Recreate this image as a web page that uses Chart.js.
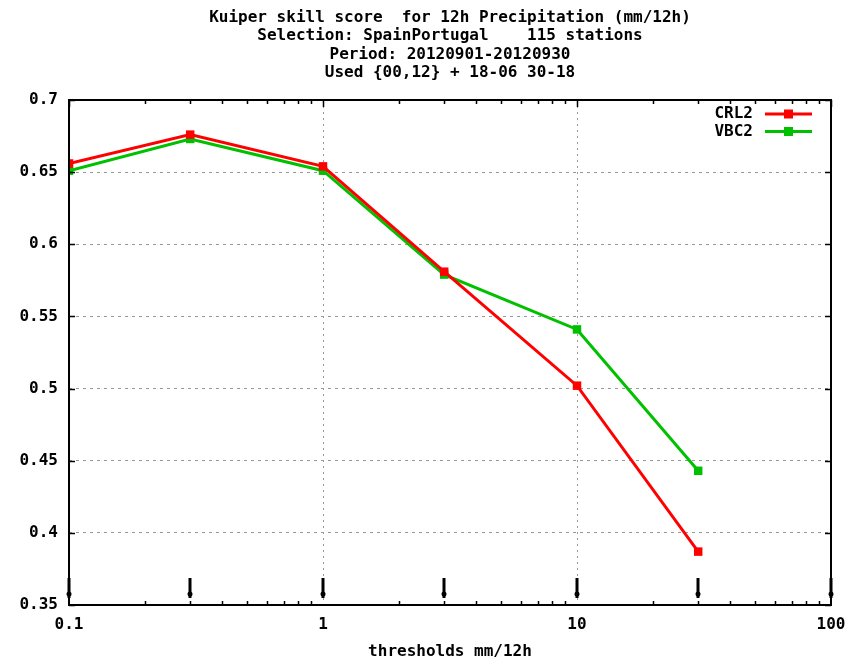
<!DOCTYPE html>
<html>
<head>
<meta charset="utf-8">
<script src="https://cdn.jsdelivr.net/npm/chart.js@4/dist/chart.umd.min.js"></script>
<style>
  html, body { margin: 0; padding: 0; background: #fff; }
  #wrap { width: 865px; height: 661px; }
</style>
</head>
<body>
<div id="wrap"><canvas id="main-chart" width="865" height="661"></canvas></div>
<script>
// data
const thresholds = [0.1, 0.3, 1, 3, 10, 30]
const crl2 = [0.656, 0.676, 0.654, 0.581, 0.502, 0.387]
const vbc2 = [0.651, 0.673, 0.651, 0.579, 0.541, 0.443]
const xTicks = [0.1, 1, 10, 100]
const markerX = [0.1, 0.3, 1, 3, 10, 30, 100]
const titleLines = [
  'Kuiper skill score  for 12h Precipitation (mm/12h)',
  'Selection: SpainPortugal    115 stations',
  'Period: 20120901-20120930',
  'Used {00,12} + 18-06 30-18'
]

const FONT = 'bold 16px "DejaVu Sans Mono", monospace'

const toPoints = (xs, ys) => xs.map((x, i) => ({ x: x, y: ys[i] }))

// gnuplot-ish decorations: title, frame, inward ticks, legend, bottom markers
const gnuplotLook = {
  id: 'gnuplotLook',
  afterDatasetsDraw(chart) {
    const ctx = chart.ctx
    const a = chart.chartArea
    const xs = chart.scales.x
    const ys = chart.scales.y
    ctx.save()

    // title
    ctx.fillStyle = '#000'
    ctx.font = FONT
    ctx.textAlign = 'center'
    ctx.textBaseline = 'middle'
    titleLines.forEach((t, i) => ctx.fillText(t, (a.left + a.right) / 2, 18 + i * 18.3))

    // frame
    ctx.strokeStyle = '#000'
    ctx.lineWidth = 2
    ctx.strokeRect(a.left, a.top, a.right - a.left, a.bottom - a.top)

    // minor log ticks top + bottom
    ctx.lineWidth = 1.5
    ctx.beginPath()
    for (let d = 0.1; d < 100; d *= 10) {
      for (let m = 2; m <= 9; m++) {
        const px = Math.round(xs.getPixelForValue(d * m)) + 0.5
        ctx.moveTo(px, a.bottom); ctx.lineTo(px, a.bottom - 4)
        ctx.moveTo(px, a.top); ctx.lineTo(px, a.top + 4)
      }
    }
    xTicks.forEach(v => {
      const px = Math.round(xs.getPixelForValue(v)) + 0.5
      ctx.moveTo(px, a.top); ctx.lineTo(px, a.top + 7)
    })
    // y ticks left + right
    ys.ticks.forEach(t => {
      const py = Math.round(ys.getPixelForValue(t.value)) + 0.5
      ctx.moveTo(a.left, py); ctx.lineTo(a.left + 6, py)
      ctx.moveTo(a.right, py); ctx.lineTo(a.right - 6, py)
    })
    ctx.stroke()

    // little markers along the bottom
    ctx.lineWidth = 3
    markerX.forEach(v => {
      const px = Math.round(xs.getPixelForValue(v))
      ctx.beginPath()
      ctx.moveTo(px, a.bottom - 27)
      ctx.lineTo(px, a.bottom - 7)
      ctx.stroke()
      ctx.beginPath()
      ctx.arc(px, a.bottom - 11, 2.5, 0, Math.PI * 2)
      ctx.fill()
    })

    // legend
    ctx.font = FONT
    ctx.textAlign = 'right'
    chart.data.datasets.forEach((ds, i) => {
      const y = 114 + i * 17.5
      ctx.fillStyle = '#000'
      ctx.fillText(ds.label, 753, y)
      ctx.strokeStyle = ds.borderColor
      ctx.lineWidth = 3
      ctx.beginPath()
      ctx.moveTo(765, y); ctx.lineTo(812, y)
      ctx.stroke()
      ctx.fillStyle = ds.borderColor
      ctx.fillRect(784, y - 4.5, 9, 9)
    })
    ctx.restore()
  }
}

const mainChart = new Chart(document.getElementById('main-chart'), {
  type: 'line',
  data: {
    datasets: [
      {
        label: 'CRL2',
        data: toPoints(thresholds, crl2),
        borderColor: '#ff0000',
        backgroundColor: '#ff0000',
        borderWidth: 3,
        pointStyle: 'rect',
        pointRadius: 6,
        pointBorderWidth: 0,
        tension: 0,
      },
      {
        label: 'VBC2',
        data: toPoints(thresholds, vbc2),
        borderColor: '#00c000',
        backgroundColor: '#00c000',
        borderWidth: 3,
        pointStyle: 'rect',
        pointRadius: 6,
        pointBorderWidth: 0,
        tension: 0,
      },
    ],
  },
  options: {
    responsive: false,
    animation: false,
    layout: {
      padding: { top: 100, right: 34, left: 0, bottom: 0 },
    },
    plugins: {
      legend: { display: false },
      title: { display: false },
      tooltip: { enabled: false },
    },
    scales: {
      x: {
        type: 'logarithmic',
        min: 0.1,
        max: 100,
        afterBuildTicks: scale => { scale.ticks = xTicks.map(v => ({ value: v, major: true })) },
        afterFit: scale => { scale.height = 56 },
        border: { display: false, dash: [2, 4] },
        grid: {
          drawTicks: false,
          tickLength: 0,
          lineWidth: 1,
          color: c => (c.tick && (c.tick.value === 1 || c.tick.value === 10)) ? '#999' : 'transparent',
        },
        ticks: {
          color: '#000',
          font: { family: '"DejaVu Sans Mono", monospace', size: 16, weight: 'bold' },
          padding: 10,
          maxRotation: 0,
          autoSkip: false,
          callback: v => String(v),
        },
        title: {
          display: true,
          text: 'thresholds mm/12h',
          color: '#000',
          font: { family: '"DejaVu Sans Mono", monospace', size: 16, weight: 'bold' },
          padding: { top: 4, bottom: 0 },
        },
      },
      y: {
        min: 0.35,
        max: 0.7,
        afterFit: scale => { scale.width = 69 },
        border: { display: false, dash: [3, 4] },
        grid: {
          drawTicks: false,
          tickLength: 0,
          lineWidth: 1,
          color: c => (c.tick && c.tick.value > 0.36 && c.tick.value < 0.69) ? '#999' : 'transparent',
        },
        ticks: {
          stepSize: 0.05,
          color: '#000',
          font: { family: '"DejaVu Sans Mono", monospace', size: 16, weight: 'bold' },
          padding: 11,
          callback: v => String(+v.toFixed(2)),
        },
      },
    },
  },
  plugins: [gnuplotLook],
})
</script>
</body>
</html>
